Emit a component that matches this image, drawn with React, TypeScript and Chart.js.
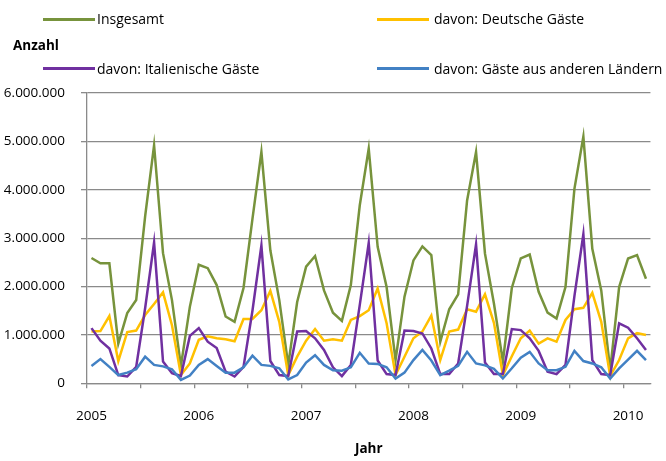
import React, { useEffect, useRef } from "react";
import { Chart, registerables } from "chart.js";

Chart.register(...registerables);

// ---- data (values in millions of overnight stays) ----
const years = ["2005", "2006", "2007", "2008", "2009", "2010"];
const monthNames = ["Jan", "Feb", "Mär", "Apr", "Mai", "Jun", "Jul", "Aug", "Sep", "Okt", "Nov", "Dez"];
const monthCount = 63; // Jan 2005 .. Mär 2010
const categories: string[] = [];
for (let i = 0; i < monthCount; i++) {
  categories.push(monthNames[i % 12] + " " + years[Math.floor(i / 12)]);
}

const insgesamt = [
  2.59, 2.48, 2.48, 0.82, 1.45, 1.72, 3.45, 4.92, 2.69, 1.72, 0.36, 1.58,
  2.45, 2.38, 2.03, 1.38, 1.27, 1.97, 3.40, 4.78, 2.75, 1.72, 0.38, 1.68,
  2.41, 2.63, 1.92, 1.46, 1.29, 2.03, 3.68, 4.85, 2.82, 1.99, 0.48, 1.79,
  2.54, 2.83, 2.65, 0.86, 1.53, 1.84, 3.78, 4.78, 2.68, 1.65, 0.45, 1.97,
  2.58, 2.66, 1.89, 1.46, 1.34, 1.99, 4.02, 5.10, 2.78, 1.92, 0.27, 1.99,
  2.58, 2.65, 2.16,
];
const deutsche = [
  1.07, 1.08, 1.39, 0.46, 1.06, 1.09, 1.41, 1.64, 1.88, 1.20, 0.17, 0.41,
  0.90, 0.97, 0.93, 0.91, 0.87, 1.33, 1.33, 1.51, 1.91, 1.27, 0.17, 0.55,
  0.88, 1.12, 0.88, 0.91, 0.88, 1.31, 1.39, 1.51, 1.96, 1.24, 0.17, 0.55,
  0.93, 1.07, 1.40, 0.48, 1.07, 1.11, 1.53, 1.48, 1.84, 1.25, 0.17, 0.56,
  0.93, 1.09, 0.82, 0.93, 0.86, 1.31, 1.53, 1.56, 1.87, 1.27, 0.15, 0.48,
  0.93, 1.04, 1.00,
];
const italienische = [
  1.14, 0.88, 0.72, 0.17, 0.14, 0.34, 1.55, 2.91, 0.45, 0.21, 0.15, 0.98,
  1.14, 0.86, 0.73, 0.24, 0.14, 0.34, 1.50, 2.85, 0.46, 0.17, 0.15, 1.07,
  1.08, 0.93, 0.69, 0.33, 0.15, 0.38, 1.62, 2.90, 0.47, 0.19, 0.17, 1.09,
  1.08, 1.03, 0.72, 0.19, 0.19, 0.41, 1.60, 2.87, 0.43, 0.19, 0.19, 1.12,
  1.10, 0.93, 0.67, 0.24, 0.19, 0.38, 1.80, 3.08, 0.48, 0.19, 0.17, 1.24,
  1.15, 0.93, 0.69,
];
const andere = [
  0.36, 0.50, 0.34, 0.17, 0.22, 0.29, 0.55, 0.38, 0.35, 0.29, 0.07, 0.16,
  0.38, 0.50, 0.36, 0.22, 0.22, 0.33, 0.57, 0.38, 0.36, 0.31, 0.08, 0.17,
  0.43, 0.58, 0.38, 0.27, 0.26, 0.33, 0.63, 0.41, 0.40, 0.33, 0.10, 0.22,
  0.48, 0.69, 0.47, 0.17, 0.26, 0.36, 0.65, 0.41, 0.37, 0.30, 0.10, 0.31,
  0.53, 0.65, 0.41, 0.27, 0.27, 0.34, 0.67, 0.46, 0.41, 0.33, 0.10, 0.31,
  0.49, 0.67, 0.48,
];

const seriesNames = [
  "Insgesamt",
  "davon: Deutsche Gäste",
  "davon: Italienische Gäste",
  "davon: Gäste aus anderen Ländern",
];
const seriesColors = ["#77933C", "#FFC000", "#7030A0", "#4281C4"];
const yTicks = [0, 1000000, 2000000, 3000000, 4000000, 5000000, 6000000];
const yTitle = "Anzahl";
const xTitle = "Jahr";

const FONT = "'Open Sans', sans-serif";
const GRID = "#8a8a8a";

function fmt(v: number): string {
  return String(Math.round(v)).replace(/\B(?=(\d{3})+(?!\d))/g, ".");
}

export default function App() {
  const canvasRef = useRef<HTMLCanvasElement | null>(null);

  useEffect(() => {
    const canvas = canvasRef.current;
    if (!canvas) return;
    const values = [insgesamt, deutsche, italienische, andere];
    const chart = new Chart(canvas, {
      type: "line",
      data: {
        labels: categories,
        datasets: values.map((arr, k) => ({
          label: seriesNames[k],
          data: arr.map((v) => v * 1000000),
          borderColor: seriesColors[k],
          backgroundColor: seriesColors[k],
          borderWidth: 2.5,
          pointRadius: 0,
          tension: 0,
          fill: false,
          order: 4 - k,
        })),
      },
      options: {
        responsive: false,
        animation: false,
        events: [],
        layout: { padding: { top: 93, right: 4, bottom: 0, left: 0 } },
        plugins: { legend: { display: false }, tooltip: { enabled: false } },
        scales: {
          x: {
            type: "category",
            offset: true,
            afterFit: (scale: any) => {
              scale.height = 77.7;
            },
            grid: {
              display: true,
              drawOnChartArea: false,
              drawTicks: true,
              tickLength: 5,
              offset: true,
              lineWidth: 1.3,
              color: (ctx: any) =>
                typeof ctx.index === "number" && ctx.index % 6 === 0 ? GRID : "rgba(0,0,0,0)",
            },
            border: { display: true, color: GRID, width: 1.3 },
            ticks: {
              autoSkip: false,
              maxRotation: 0,
              minRotation: 0,
              padding: 20,
              color: "#000",
              font: { family: FONT, size: 13.5 },
              callback: (_v: any, idx: number) =>
                idx % 12 === 0 ? categories[idx].split(" ")[1] : "",
            },
            title: {
              display: true,
              text: xTitle,
              color: "#000",
              font: { family: FONT, size: 13.5, weight: "bold" },
              padding: { top: 0, bottom: 4 },
            },
          },
          y: {
            min: yTicks[0],
            max: yTicks[yTicks.length - 1],
            afterFit: (scale: any) => {
              scale.width = 87;
            },
            afterBuildTicks: (scale: any) => {
              scale.ticks = yTicks.map((v) => ({ value: v }));
            },
            grid: {
              color: GRID,
              lineWidth: 1.3,
              drawTicks: true,
              tickLength: 6,
            },
            border: { display: true, color: GRID, width: 1.3 },
            ticks: {
              padding: 16,
              color: "#000",
              font: { family: FONT, size: 13.5 },
              callback: (v: any) => fmt(Number(v)),
            },
          },
        },
      },
    });
    return () => chart.destroy();
  }, []);

  const legendRows = [
    { y: 19, items: [0, 1] },
    { y: 68.5, items: [2, 3] },
  ];
  const cols = [
    { lineX: 43, lineW: 52, textX: 97 },
    { lineX: 377, lineW: 52, textX: 434 },
  ];

  return (
    <div
      style={{
        position: "absolute",
        left: 0,
        top: 0,
        width: 666,
        height: 461,
        background: "#fff",
        fontFamily: FONT,
      }}
    >
      <canvas ref={canvasRef} width={666} height={461} style={{ width: 666, height: 461, display: "block" }} />
      {legendRows.map((row, r) =>
        row.items.map((k, c) => (
          <React.Fragment key={`${r}-${c}`}>
            <div
              style={{
                position: "absolute",
                left: cols[c].lineX,
                top: row.y - 1.5,
                width: cols[c].lineW,
                height: 3,
                background: seriesColors[k],
              }}
            />
            <div
              style={{
                position: "absolute",
                left: cols[c].textX,
                top: row.y - 10,
                height: 20,
                lineHeight: "20px",
                fontSize: 14,
                color: "#000",
                whiteSpace: "nowrap",
              }}
            >
              {seriesNames[k]}
            </div>
          </React.Fragment>
        ))
      )}
      <div
        style={{
          position: "absolute",
          left: 13,
          top: 45 - 10,
          height: 20,
          lineHeight: "20px",
          fontSize: 13.5,
          fontWeight: "bold",
          color: "#000",
          whiteSpace: "nowrap",
        }}
      >
        {yTitle}
      </div>
    </div>
  );
}
